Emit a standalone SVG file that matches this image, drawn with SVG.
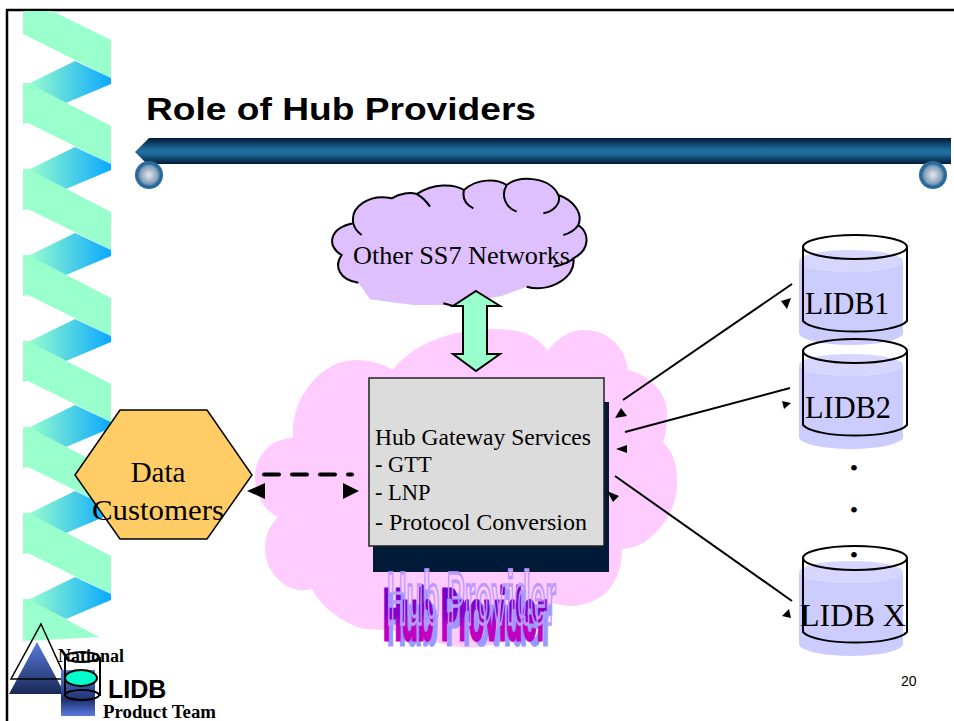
<svg xmlns="http://www.w3.org/2000/svg" xmlns:xlink="http://www.w3.org/1999/xlink" width="954" height="721" viewBox="0 0 954 721">
<style>
.sans{font-family:"Liberation Sans",Arial,sans-serif}
.serif{font-family:"Liberation Serif","Times New Roman",serif;fill:#000}
.ln{fill:none;stroke:#000;stroke-width:2}
.db{fill:#ccccff}
.dbt{fill:#d6d6ff}
.cyl{fill:none;stroke:#000;stroke-width:2}
.tip{fill:#000}
</style>
<defs>
<linearGradient id="rib" x1="0" x2="1" y1="0" y2="0"><stop offset="0" stop-color="#99ffcc"/><stop offset="1" stop-color="#0aa8ff"/></linearGradient>
<linearGradient id="bar" x1="0" x2="0" y1="0" y2="1"><stop offset="0" stop-color="#021a38"/><stop offset=".45" stop-color="#1f6c9b"/><stop offset=".6" stop-color="#1f6c9b"/><stop offset="1" stop-color="#021a38"/></linearGradient>
<radialGradient id="ball"><stop offset="0" stop-color="#e8e8f0"/><stop offset=".65" stop-color="#7f9cb8"/><stop offset=".8" stop-color="#2a6a9a"/><stop offset="1" stop-color="#2a6a9a"/></radialGradient>
<linearGradient id="wa" x1="0" x2="0" y1="0" y2="1"><stop offset="0" stop-color="#6600cc"/><stop offset=".5" stop-color="#8800c8"/><stop offset=".65" stop-color="#c000c0"/><stop offset="1" stop-color="#c000c0"/></linearGradient>
<linearGradient id="lg" x1="0" x2="0" y1="0" y2="1"><stop offset="0" stop-color="#5a7be0"/><stop offset="1" stop-color="#1a2a55"/></linearGradient>
<linearGradient id="lc" x1="0" x2="0" y1="0" y2="1"><stop offset="0" stop-color="#5a7be0"/><stop offset=".65" stop-color="#1f3170"/><stop offset="1" stop-color="#5a7be0"/></linearGradient>
<g id="unit">
<polygon points="28,84 75,61 111,78 111,84 66,103" fill="url(#rib)"/>
<polygon points="23,83 28,83 111,126 111,164 28,123 23,124" fill="#99ffcc"/>
</g>
<g id="can">
<ellipse cx="851" cy="261" rx="52" ry="11" class="dbt"/>
<path class="db" d="M799,261 A52,11 0 0 0 903,261 V333 A52,12 0 0 1 799,333 Z"/>
<path class="cyl" d="M803,247 V321 C815,335 895,335 907,321 V247"/>
<ellipse cx="855" cy="247" rx="52" ry="12" class="cyl"/>
</g>
</defs>
<rect width="954" height="721" fill="#fff"/>
<path d="M7,721 V10 H954" fill="none" stroke="#000" stroke-width="2.5"/>

<g id="ribbon">
<polygon points="23,11 52,11 111,40 111,78 23,34" fill="#99ffcc"/>
<use xlink:href="#unit" href="#unit"/>
<use xlink:href="#unit" href="#unit" y="86"/>
<use xlink:href="#unit" href="#unit" y="172"/>
<use xlink:href="#unit" href="#unit" y="258"/>
<use xlink:href="#unit" href="#unit" y="344"/>
<use xlink:href="#unit" href="#unit" y="430"/>
<polygon points="28,600 75,577 111,594 111,600 66,619" fill="url(#rib)"/>
<polygon points="23,599 28,599 99,637 23,641" fill="#99ffcc"/>
</g>

<g id="title">
<text class="sans" x="146" y="120" font-size="31" font-weight="700" textLength="390" lengthAdjust="spacingAndGlyphs" fill="#000">Role of Hub Providers</text>
<polygon points="135,152 149,138 951,138 951,164 147,164" fill="url(#bar)"/>
<circle cx="149" cy="175" r="14" fill="url(#ball)"/>
<circle cx="933" cy="175" r="14" fill="url(#ball)"/>
</g>

<g id="hub-cloud">
<path fill="#ffccff" d="M393,370 C415,340 465,325 510,330 C528,331 540,340 548,351 C558,337 570,330 585,330 C610,330 626,350 628,370 C652,376 667,395 667,413 C667,425 666,435 663,442 C676,455 677,470 677,483 C677,495 674,505 669,515 C655,538 640,548 622,549 C622,575 610,596 590,602 C575,609 560,605 553,603 C540,630 500,650 460,647 C440,645 425,638 393,630 C385,630 373,630 360,628 C338,620 320,605 312,589 C290,596 265,575 265,548 C265,535 270,525 278,517 C262,510 255,492 255,477 C255,455 272,438 293,438 C290,400 320,360 356,360 C370,360 383,364 393,370 Z"/>
</g>

<g id="ss7-cloud">
<g transform="translate(320,170) scale(.33333)">
<path fill="#dfc0ff" d="M150,388 L115,338 C60,330 40,290 65,255 C20,230 25,175 100,160 C90,110 150,70 215,85 C240,70 270,65 290,72 C340,40 400,40 432,60 C470,25 530,25 560,45 C600,15 690,20 715,75 C760,90 790,130 775,165 C810,190 810,240 760,265 C770,320 690,370 620,350 L545,378 L400,405 L280,405 Z"/>
<path fill="none" stroke="#000" stroke-width="6" d="M115,338 C60,330 40,290 65,255 C20,230 25,175 100,160 C90,110 150,70 215,85 C240,70 270,65 290,72 C340,40 400,40 432,60 C470,25 530,25 560,45 C600,15 690,20 715,75 C760,90 790,130 775,165 C810,190 810,240 760,265 C770,320 690,370 620,350 M100,160 C103,175 112,185 125,195 M290,72 C305,80 320,95 330,110 M432,60 C425,90 440,105 460,115 M560,45 C540,80 560,115 590,125 M715,75 C725,100 700,125 670,130 M775,165 C765,180 750,190 730,195 M760,265 C745,280 725,285 700,290 M370,400 L400,408"/>
</g>
<text class="serif" x="353" y="264" font-size="25" textLength="217" lengthAdjust="spacingAndGlyphs">Other SS7 Networks</text>
</g>

<g id="gateway">
<rect x="373" y="402" width="236" height="170" fill="#011a38"/>
<rect x="369" y="378" width="235" height="168" fill="#dcdcdc" stroke="#222" stroke-width="1.5"/>
<text class="serif" x="375" y="445" font-size="22.5" textLength="216" lengthAdjust="spacingAndGlyphs">Hub Gateway Services</text>
<text class="serif" x="375" y="472" font-size="22.5">- GTT</text>
<text class="serif" x="375" y="500" font-size="22.5">- LNP</text>
<text class="serif" x="375" y="530" font-size="22.5" textLength="212" lengthAdjust="spacingAndGlyphs">- Protocol Conversion</text>
</g>

<g id="hub-provider-label" font-weight="700" class="sans">
<text transform="translate(387,645) scale(1,3.45)" font-size="21.5" fill="#9999ff" stroke="#9999ff" stroke-width=".8" textLength="165" lengthAdjust="spacingAndGlyphs">Hub Provider</text>
<text transform="translate(383,640) scale(1,3.45)" font-size="21.5" fill="url(#wa)" stroke="url(#wa)" stroke-width=".8" textLength="164" lengthAdjust="spacingAndGlyphs">Hub Provider</text>
<text transform="translate(387,624) scale(1,3.45)" font-size="21.5" fill="none" stroke="#bb99ff" stroke-width="1" textLength="169" lengthAdjust="spacingAndGlyphs">Hub Provider</text>
</g>

<g id="data-customers">
<polygon points="75,475 120,410 207,410 252,475 207,539 120,539" fill="#ffcc66" stroke="#000" stroke-width="1.5"/>
<text class="serif" x="158" y="482" font-size="29" text-anchor="middle">Data</text>
<text class="serif" x="158" y="520" font-size="29" text-anchor="middle" textLength="132" lengthAdjust="spacingAndGlyphs">Customers</text>
</g>

<g id="db-lidb1"><use xlink:href="#can" href="#can"/>
<text class="serif" x="805" y="314" font-size="32" textLength="84" lengthAdjust="spacingAndGlyphs">LIDB1</text></g>
<g id="db-lidb2"><use xlink:href="#can" href="#can" y="104"/>
<text class="serif" x="805" y="418" font-size="32" textLength="86" lengthAdjust="spacingAndGlyphs">LIDB2</text></g>
<g id="db-lidbx"><use xlink:href="#can" href="#can" y="311"/>
<text class="serif" x="800" y="626" font-size="32" textLength="106" lengthAdjust="spacingAndGlyphs">LIDB X</text></g>

<g id="dots" class="serif" font-size="24" text-anchor="middle">
<text x="854" y="476">•</text>
<text x="854" y="518">•</text>
<text x="854" y="563">•</text>
</g>

<g id="connectors">
<polygon points="476,291 500,306 487,306 487,354 500,354 476,371 453,354 463,354 463,306 453,306" fill="#99ffcc" stroke="#000" stroke-width="2"/>
<line x1="264" y1="474.5" x2="352" y2="474.5" stroke="#000" stroke-width="4" stroke-linecap="round" stroke-dasharray="15 13"/>
<polygon class="tip" points="247,491 265,483 265,499"/>
<polygon class="tip" points="359,491 343,483 343,499"/>
<line class="ln" x1="623" y1="400" x2="792" y2="284"/>
<line class="ln" x1="625" y1="432" x2="790" y2="388"/>
<line class="ln" x1="615" y1="476" x2="792" y2="601"/>
<polygon class="tip" points="621,408 615,418 627,416"/>
<polygon class="tip" points="627,445 616,449 627,453"/>
<polygon class="tip" points="607,491 619,496 613,502"/>
<polygon class="tip" points="781,301 791,298 787,309"/>
<polygon class="tip" points="782,401 791,403 784,409"/>
<polygon class="tip" points="782,616 789,609 791,618"/>
</g>

<g id="logo">
<polygon points="37,642 65,694 9,694" fill="url(#lg)"/>
<polygon points="41,624 66,679 11,679" fill="none" stroke="#000" stroke-width="1.5"/>
<rect x="61" y="670" width="34" height="46" fill="url(#lc)"/>
<path class="cyl" d="M65,657 V696 M100,657 V696"/>
<ellipse cx="82" cy="657" rx="17" ry="5" class="cyl"/>
<ellipse cx="81" cy="678" rx="16" ry="8" fill="#00ffcc" stroke="#000" stroke-width="2"/>
<ellipse cx="82" cy="695" rx="17" ry="5" class="cyl"/>
<text class="serif" x="58" y="662" font-size="18" font-weight="700" textLength="66" lengthAdjust="spacingAndGlyphs">National</text>
<text class="sans" x="108" y="698" font-size="25" font-weight="700" fill="#000">LIDB</text>
<text class="serif" x="103" y="718" font-size="18" font-weight="700" textLength="113" lengthAdjust="spacingAndGlyphs">Product Team</text>
</g>
<text id="page-number" class="sans" x="901" y="686" font-size="14" fill="#000">20</text>
</svg>
